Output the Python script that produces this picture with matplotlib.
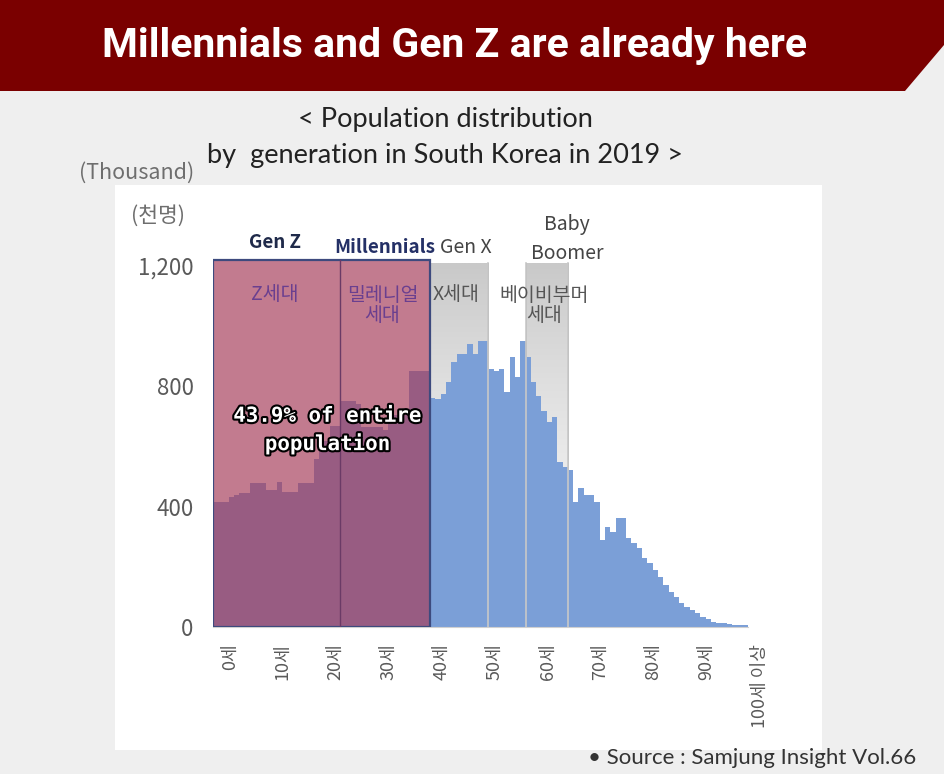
import numpy as np
import matplotlib
matplotlib.use('Agg')
import matplotlib.pyplot as plt
from matplotlib.patches import Rectangle, Polygon
from matplotlib.transforms import ScaledTranslation
import matplotlib.patheffects as pe

# population by age (thousand), ages 0..100+
ages = np.arange(101)
population = [
    417, 417, 417, 433, 440, 447, 447, 480, 480, 480,
    457, 457, 483, 450, 450, 450, 480, 480, 480, 560,
    590, 620, 667, 667, 750, 750, 750, 740, 665, 665,
    665, 665, 655, 705, 705, 705, 705, 850, 850, 850,
    850, 762, 757, 773, 813, 880, 907, 907, 940, 907,
    950, 950, 857, 850, 857, 780, 897, 830, 950, 897,
    813, 767, 717, 680, 697, 550, 533, 523, 417, 463,
    440, 440, 417, 290, 333, 317, 363, 363, 297, 280,
    263, 230, 213, 190, 167, 140, 117, 100, 80, 67,
    57, 47, 33, 27, 17, 13, 12, 10, 7, 6,
    5,
]
tick_ages = list(range(0, 101, 10))
tick_labels = [f'{a}세' for a in range(0, 100, 10)] + ['100세 이상']
y_ticks = [0, 400, 800, 1200]
y_labels = ['0', '400', '800', '1,200']

# generation age ranges (first age, last age)
genz = (0, 23)
millennials = (24, 40)
genx = (41, 51)
boomers = (59, 66)

W, H = 944, 774
KR = ['Noto Sans CJK KR', 'DejaVu Sans']


def px(x, y):
    return (x / W, 1 - y / H)


fig = plt.figure(figsize=(W / 100, H / 100), dpi=100)
fig.patch.set_facecolor('#efefef')

# header band with cut corner
fig.patches.append(Polygon([px(0, 0), px(W, 0), px(W, 45), px(905, 91), px(0, 91)],
                           closed=True, transform=fig.transFigure,
                           facecolor='#7a0000', edgecolor='none', zorder=-2))
fig.text(*px(455, 46), 'Millennials and Gen Z are already here', color='white',
         fontsize=29.5, fontweight='bold', family='Roboto', ha='center', va='center')

# white chart panel
x0, y0 = px(115, 750)
x1, y1 = px(822, 185)
fig.patches.append(Rectangle((x0, y0), x1 - x0, y1 - y0, transform=fig.transFigure,
                             facecolor='white', edgecolor='none', zorder=-2))

fig.text(*px(445, 120), '< Population distribution', fontsize=19.5, family='Lato',
         color='#222222', ha='center', va='center')
fig.text(*px(445, 155), 'by  generation in South Korea in 2019 >', fontsize=19.5,
         family='Lato', color='#222222', ha='center', va='center')
fig.text(*px(137, 173), '(Thousand)', fontsize=15.5, family=KR, color='#6e6e6e',
         ha='center', va='center')
fig.text(*px(158, 216), '(천명)', fontsize=15.5, family=KR, color='#6e6e6e',
         ha='center', va='center')
fig.text(*px(752, 758), '• Source : Samjung Insight Vol.66', fontsize=16,
         family='Lato', color='#333333', ha='center', va='center')

ax = fig.add_axes([213 / W, 1 - 627 / H, 535 / W, (627 - 251) / H])
ax.set_facecolor('none')
ax.set_xlim(-0.5, 100.5)
ax.set_ylim(0, 1250)

ax.bar(ages, population, width=1.0, color='#7b9fd7', linewidth=0, zorder=2)

# gray bands for Gen X and Baby Boomer, darker at the top
grad = (np.linspace(0, 1, 256) ** 1.6).reshape(-1, 1)
band_cmap = matplotlib.colors.LinearSegmentedColormap.from_list('band', ['#f7f7f7', '#c9c9c9'])
band_top = 1210
for a, b in (genx, boomers):
    ax.imshow(grad, extent=(a - 0.5, b + 0.5, 0, band_top), origin='lower',
              cmap=band_cmap, aspect='auto', zorder=1)
    for xe in (a - 0.5, b + 0.5):
        ax.plot([xe, xe], [0, band_top], color='#c8c8c8', lw=1.2, zorder=3)
        ax.plot([xe, xe], [0, band_top], color='#a8a8a8', lw=0.6, zorder=1.5)

# Gen Z + Millennials box
box_l, box_r = genz[0] - 0.5, millennials[1] + 0.5
box_top = 1220
ax.add_patch(Rectangle((box_l, 0), box_r - box_l, box_top, facecolor='#a63c5a',
                       alpha=0.68, edgecolor='none', zorder=4))
ax.add_patch(Rectangle((box_l, 0), box_r - box_l, box_top, fill=False,
                       edgecolor='#3d4a7e', lw=1.6, zorder=5))
ax.plot([millennials[0] - 0.5] * 2, [0, box_top], color='#6b3a66', lw=1, zorder=5)

# generation labels
lab = dict(ha='center', va='center', clip_on=False, zorder=6)
ax.text(np.mean(genz) - 0.3, 1277, 'Gen Z', fontsize=13.5, fontweight='bold',
        color='#1f2a4a', family=KR, **lab)
ax.text(np.mean(millennials), 1263, 'Millennials', fontsize=13.5, fontweight='bold',
        color='#243066', family=KR, **lab)
ax.text(np.mean(genx) + 1.3, 1262, 'Gen X', fontsize=14, color='#444444',
        family=KR, **lab)
ax.text(boomers[1] + 0.3, 1290, 'Baby\nBoomer', fontsize=14, color='#444444',
        family=KR, linespacing=1.45, **lab)

ax.text(np.mean(genz) - 0.3, 1104, 'Z세대', fontsize=14, color='#6a3f8f', family=KR, **lab)
ax.text(np.mean(millennials) - 0.5, 1070, '밀레니얼\n세대', fontsize=14, color='#6a3f8f',
        family=KR, linespacing=0.95, **lab)
ax.text(np.mean(genx) - 0.6, 1104, 'X세대', fontsize=14, color='#555555', family=KR, **lab)
ax.text(boomers[0] + 3, 1070, '베이비부머\n세대', fontsize=14, color='#555555',
        family=KR, linespacing=0.95, **lab)

ax.text(21.2, 655, '43.9% of entire\npopulation', fontsize=15, fontweight='bold',
        family='DejaVu Sans Mono', color='white', ha='center', va='center',
        linespacing=1.35, zorder=7,
        path_effects=[pe.withStroke(linewidth=3, foreground='black')])

ax.set_yticks(y_ticks)
ax.set_yticklabels(y_labels, fontsize=16, color='#5a5a5a', family=KR)
ax.set_xticks(tick_ages)
ax.set_xticklabels(tick_labels, rotation=90, fontsize=13, color='#5a5a5a',
                   family=KR, va='top', ha='center')
ax.tick_params(axis='y', length=0, pad=14)
ax.tick_params(axis='x', length=0, pad=12)
shift = ScaledTranslation(0.14, 0, fig.dpi_scale_trans)
for t in ax.get_xticklabels():
    t.set_transform(t.get_transform() + shift)
for s in ['top', 'right', 'left']:
    ax.spines[s].set_visible(False)
ax.spines['bottom'].set_color('#d0d0d0')

fig.savefig('out.png', dpi=100, facecolor=fig.get_facecolor())
